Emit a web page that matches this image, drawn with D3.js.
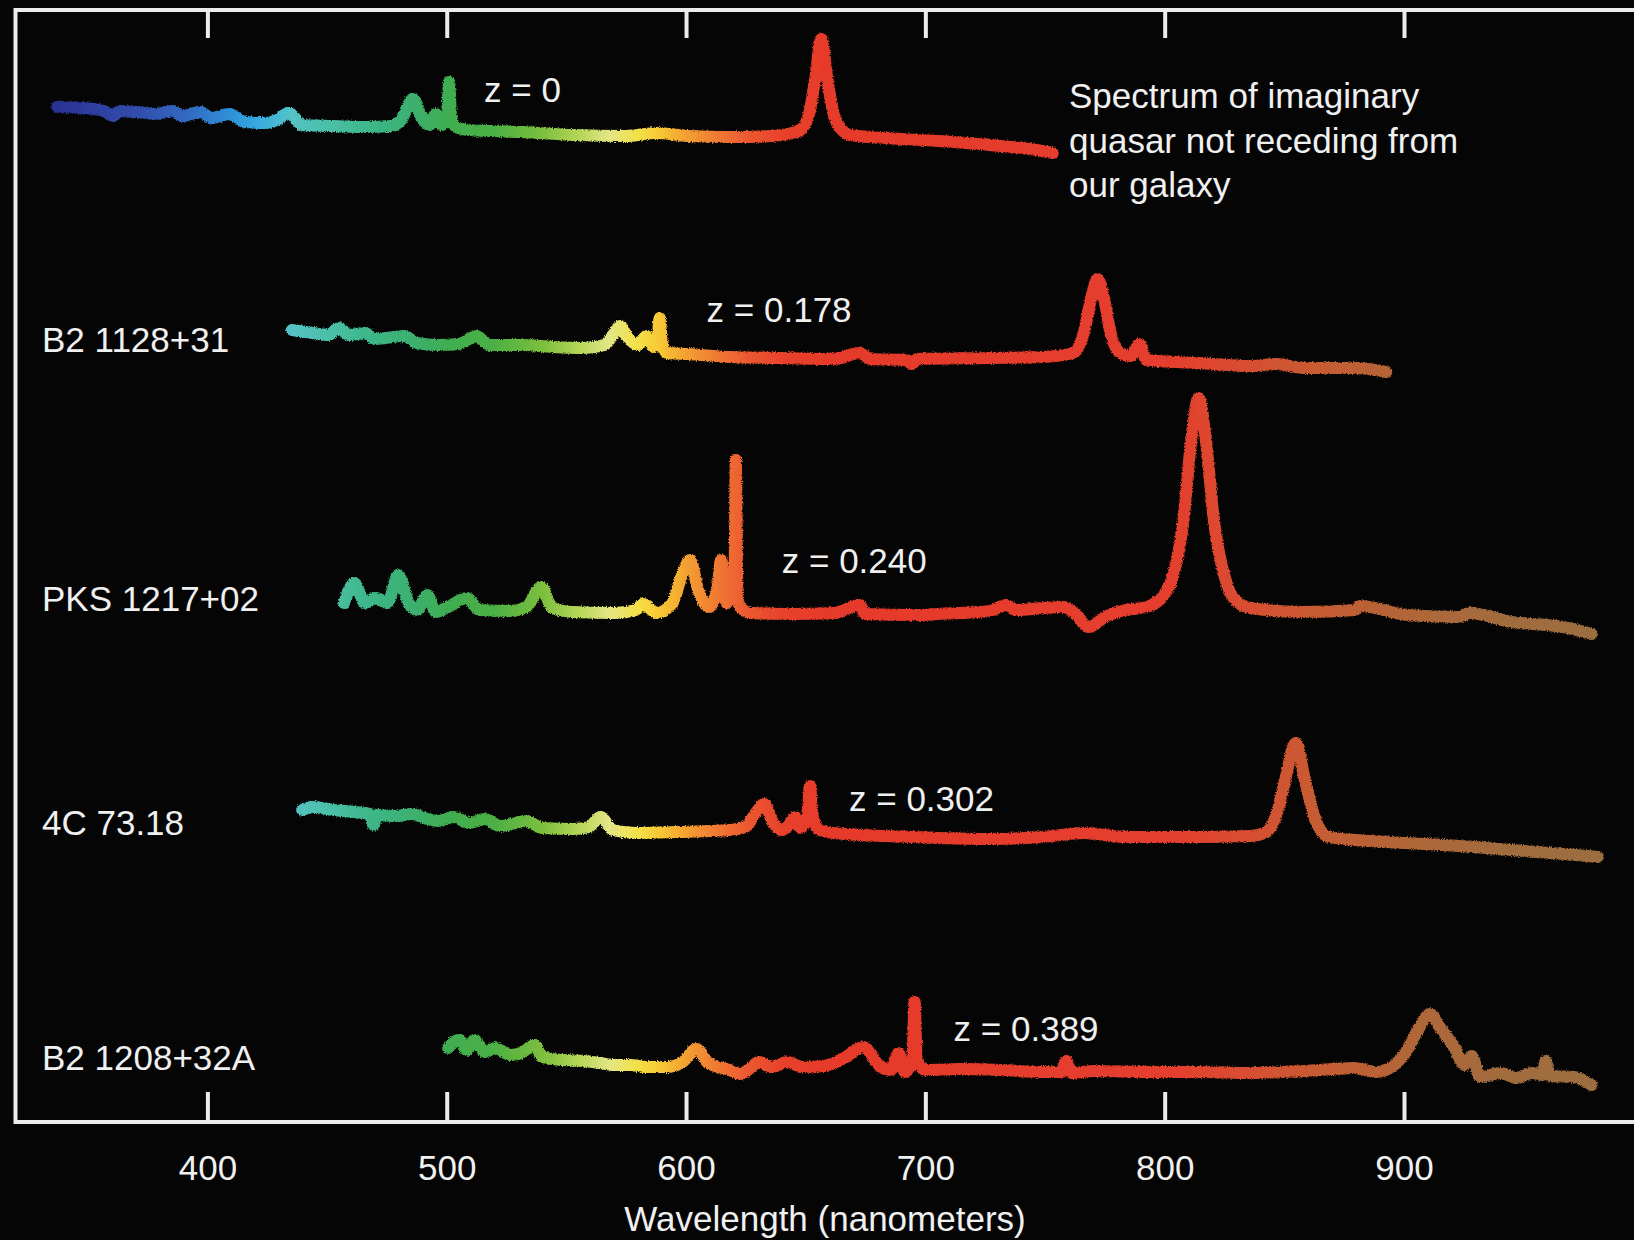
<!DOCTYPE html>
<html><head><meta charset="utf-8">
<script src="https://cdn.jsdelivr.net/npm/d3@7"></script>
<style>
html,body{margin:0;padding:0;background:#050505;}
svg{display:block;}
text{font-family:"Liberation Sans",Arial,Helvetica,sans-serif;fill:#f0f0f0;}
</style></head><body>
<svg id="chart" width="1634" height="1240"></svg>
<script>
// ---------------- DATA ----------------
const tickValues = [400, 500, 600, 700, 800, 900];
const axisTitle = "Wavelength (nanometers)";
const quasarNames = ["", "B2 1128+31", "PKS 1217+02", "4C 73.18", "B2 1208+32A"];
const redshiftLabels = ["z = 0", "z = 0.178", "z = 0.240", "z = 0.302", "z = 0.389"];
const noteLines = ["Spectrum of imaginary", "quasar not receding from", "our galaxy"];

// [observed wavelength (nm), relative flux]
const spectrumZ0 = [[337.3,53],[348.2,52],[356.9,49],[360.4,44],[363.4,49],[369.9,48],[378.7,46],[385.2,49],[389.5,44],[397,48],[401.7,42],[409.1,46],[415.7,38],[424.4,37],[429,40],[434,47],[439.6,35],[452.7,34],[465.8,33],[476.7,34],[481,40],[485.8,61],[489.7,42],[492.8,35],[495.4,46],[498,35],[500.2,45],[501,78],[501.8,45],[503.7,33],[509.3,30],[531.1,28],[552.9,25],[574.7,24],[587.7,27],[600.8,24],[618.2,23],[635.6,24],[644.3,27],[647.8,30],[651.3,45],[653.9,80],[656.5,121],[659.1,80],[661.8,45],[665.2,30],[668.3,25],[683.5,22],[705.3,19],[727.1,15],[748.9,9],[753.2,7]];
const spectrumZ178 = [[435.3,50],[444,47],[450.5,45],[454.9,52],[459.2,45],[465.8,47],[470.1,41],[474.5,42],[482.3,44],[487.5,37],[496.3,35],[505,36],[512.4,44],[518,35],[531.1,35],[544.2,33],[557.2,32],[565.9,35],[569.4,45],[572.5,54],[575.5,43],[579.9,35],[583.4,44],[586.4,33],[588.2,45],[589,62],[589.8,40],[592.1,27],[600.8,26],[618.2,23],[640,22],[661.8,21],[672.6,27],[677,21],[692.2,20],[694.4,16],[696.6,21],[727.1,22],[748.9,23],[761.9,27],[766.3,48],[769.3,82],[772,101],[774.6,82],[777.6,45],[781.5,27],[785.9,24],[789.4,36],[792.4,20],[814.2,17],[836,14],[846.9,16],[857.8,12],[879.5,12],[892.6,8]];
const spectrumZ240 = [[457.1,57],[461.4,77],[465.8,57],[470.1,62],[475.3,57],[479.7,85],[484.1,57],[487.5,50],[491.9,65],[495.4,48],[500.6,53],[508.4,62],[513.7,50],[526.7,49],[533.3,53],[539.4,73],[544.2,52],[552.9,48],[570.3,47],[579,50],[582.1,56],[587.7,47],[594.3,57],[598.6,87],[601.7,100],[605.1,70],[609.5,53],[613,70],[614.7,100],[616.9,57],[618.6,66],[620.2,72],[620.8,200],[621.5,62],[623,52],[626.9,47],[644.3,46],[661.8,47],[672.6,55],[674.8,46],[696.6,45],[705.3,46],[727.1,49],[733.6,55],[738,50],[748.9,52],[757.6,53],[761.9,48],[768.5,33],[775,43],[783.7,50],[792.4,53],[799,63],[803.3,83],[807.7,137],[811.1,220],[814.2,262],[817.2,220],[820.7,137],[825.1,83],[829.4,60],[836,52],[857.8,48],[879.5,50],[881.7,54],[901.3,45],[923.1,43],[927.4,47],[944.9,38],[966.6,33],[978.4,26]];
const spectrumZ302 = [[439.6,60],[444,63],[452.7,60],[461.4,58],[467.9,56],[469.3,45],[471,55],[478.8,54],[485.4,56],[491.9,51],[496.3,49],[502.8,53],[509.3,47],[515.9,51],[522.4,44],[533.3,49],[539.8,42],[552.9,41],[559.4,43],[564.2,53],[569.4,40],[579,37],[596.4,38],[618.2,40],[624.7,43],[629.1,57],[632.6,66],[636.5,47],[640,40],[643,45],[645.6,53],[647.8,42],[650.8,55],[651.8,84],[652.8,55],[655.7,40],[661.8,37],[683.5,34],[705.3,32],[727.1,31],[748.9,33],[766.3,37],[783.7,33],[814.2,33],[836,34],[842.5,38],[846.9,57],[850.3,90],[854.7,127],[858.6,90],[863,50],[868.6,33],[879.5,30],[901.3,27],[923.1,24],[944.9,20],[966.6,16],[981,13]];
const spectrumZ389 = [[500.6,52],[505,60],[508.4,50],[511.5,60],[515.9,48],[520.2,52],[526.7,45],[531.1,47],[536.8,55],[539.8,43],[548.5,40],[557.2,39],[563.8,37],[570.3,35],[576.8,35],[583.4,33],[592.1,33],[598.6,38],[604.3,51],[609.5,37],[618.2,30],[622.6,26],[626.9,32],[630.4,38],[635.6,33],[642.2,38],[648.7,33],[657.4,34],[666.1,42],[674,53],[681.4,33],[685.7,30],[688.8,47],[691.4,28],[694.6,40],[695.5,98],[696.4,40],[700.1,30],[714,31],[731.4,30],[748.9,28],[756.7,28],[758.9,39],[761.1,27],[770.6,29],[792.4,28],[814.2,28],[836,27],[857.8,29],[879.5,32],[888.2,28],[894.8,33],[901.3,50],[906.5,73],[910.9,86],[915.2,72],[920.9,53],[925.3,35],[928.3,44],[931.8,23],[940.5,27],[947,22],[953.6,27],[957.9,25],[959.2,39],[961,24],[971,23],[978.4,15]];

const spectra = [spectrumZ0, spectrumZ178, spectrumZ240, spectrumZ302, spectrumZ389];

// ---------------- LAYOUT / STYLE ----------------
const W = 1634, H = 1240;
const frame = {left: 15.5, top: 10, bottom: 1122};
const bandBase = [160, 380, 660, 870, 1100];          // y of zero flux per row
const nameBaseline = [0, 352, 611, 835, 1070];
const zLabelX = [515.6, 608.6, 640, 668.1, 711.8];    // in wavelength units
const zBaseline = [102, 322, 573, 811, 1041];
const spectralStops = [
  [330,"#2a2c8c"],[350,"#2e3c9e"],[375,"#3152b0"],[395,"#3270c6"],[410,"#2e92d8"],[422,"#38ace0"],
  [435,"#55c2c6"],[450,"#4cc0a8"],[465,"#3fb88e"],[485,"#3cb070"],[500,"#40ad52"],[520,"#4cb044"],
  [540,"#7cbf3e"],[556,"#b8d65a"],[568,"#e4e684"],[580,"#f4e046"],[590,"#f7c434"],[600,"#f4a032"],
  [612,"#f07c32"],[625,"#ec5a30"],[640,"#e8422c"],[660,"#e63a2b"],[800,"#e53d2e"],[830,"#da4c30"],
  [860,"#c95a32"],[900,"#b26638"],[940,"#a26c3e"],[990,"#9a6e40"]
];

const svg = d3.select("#chart");
svg.append("rect").attr("width", W).attr("height", H).attr("fill", "#050505");

const x = d3.scaleLinear().domain([400, 900]).range([207.4, 1404]);

// gradient
const defs = svg.append("defs");
const grad = defs.append("linearGradient").attr("id", "spec")
  .attr("gradientUnits", "userSpaceOnUse")
  .attr("x1", x(330)).attr("x2", x(990)).attr("y1", 0).attr("y2", 0);
grad.selectAll("stop").data(spectralStops).join("stop")
  .attr("offset", d => (d[0] - 330) / (990 - 330))
  .attr("stop-color", d => d[1]);

const filt = defs.append("filter").attr("id", "rough")
  .attr("filterUnits", "userSpaceOnUse").attr("x", 0).attr("y", 0).attr("width", W).attr("height", H);
filt.append("feTurbulence").attr("type", "fractalNoise").attr("baseFrequency", "0.8")
  .attr("numOctaves", 2).attr("seed", 7).attr("result", "noise");
filt.append("feDisplacementMap").attr("in", "SourceGraphic").attr("in2", "noise")
  .attr("scale", 3.5).attr("xChannelSelector", "R").attr("yChannelSelector", "G").attr("result", "disp");
filt.append("feGaussianBlur").attr("in", "disp").attr("stdDeviation", 0.5);

// spectra
const gSpec = svg.append("g").attr("filter", "url(#rough)");
spectra.forEach((data, i) => {
  const y = d3.scaleLinear().domain([0, 300]).range([bandBase[i], bandBase[i] - 300]);
  const line = d3.line().x(d => x(d[0])).y(d => y(d[1])).curve(d3.curveMonotoneX);
  gSpec.append("path").datum(data)
    .attr("d", line)
    .attr("fill", "none")
    .attr("stroke", "url(#spec)")
    .attr("stroke-width", 12)
    .attr("stroke-linejoin", "round")
    .attr("stroke-linecap", "round");
});

// frame
const frameColor = "#ececec";
svg.append("path")
  .attr("d", `M${W + 5},${frame.top} H${frame.left} V${frame.bottom} H${W + 5}`)
  .attr("fill", "none").attr("stroke", frameColor).attr("stroke-width", 4);

// axes
const axB = svg.append("g").attr("transform", `translate(0,${frame.bottom})`)
  .call(d3.axisBottom(x).tickValues(tickValues).tickSizeInner(-30).tickSizeOuter(0).tickPadding(33));
const axT = svg.append("g").attr("transform", `translate(0,${frame.top})`)
  .call(d3.axisTop(x).tickValues(tickValues).tickSizeInner(-28).tickSizeOuter(0).tickFormat(""));
[axB, axT].forEach(g => {
  g.select(".domain").remove();
  g.selectAll(".tick line").attr("stroke", frameColor).attr("stroke-width", 4);
});
axB.selectAll(".tick text").attr("font-size", 35).attr("fill", "#f0f0f0")
  .attr("font-family", "Liberation Sans, Arial, sans-serif");

svg.append("text").attr("x", 825).attr("y", 1231).attr("text-anchor", "middle")
  .attr("font-size", 35).text(axisTitle);

// labels
svg.selectAll("text.name").data(quasarNames).join("text").attr("class", "name")
  .attr("x", 42).attr("y", (d, i) => nameBaseline[i]).attr("font-size", 35).text(d => d);
svg.selectAll("text.z").data(redshiftLabels).join("text").attr("class", "z")
  .attr("x", (d, i) => x(zLabelX[i])).attr("y", (d, i) => zBaseline[i]).attr("font-size", 35).text(d => d);
svg.append("text").attr("x", 1069).attr("font-size", 35)
  .selectAll("tspan").data(noteLines).join("tspan")
  .attr("x", 1069).attr("y", (d, i) => 108 + i * 44.5).text(d => d);
</script>
</body></html>
